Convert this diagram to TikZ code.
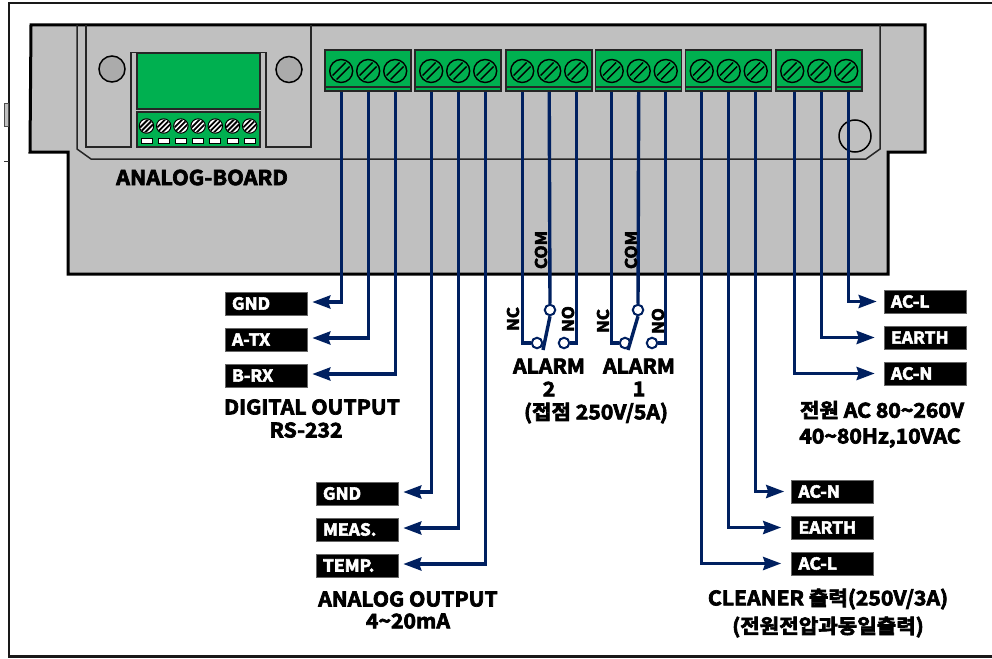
\documentclass[tikz,border=0pt]{standalone}
\usepackage{fontspec}
\setmainfont{Noto Sans CJK KR}[BoldFont={Noto Sans CJK KR Bold},BoldFeatures={FakeBold=3.5,FakeStretch=1.06}]
\usetikzlibrary{arrows.meta,calc}
\definecolor{wirec}{HTML}{002060}
\definecolor{greenc}{HTML}{00B050}
\definecolor{housec}{HTML}{C0C0C0}
\tikzset{
  x=1pt,y=-1pt,
  wire/.style={draw=wirec,line width=3.4pt},
  awire/.style={wire,-{Stealth[length=18pt,width=13pt,inset=2pt]},shorten >=5pt},
  tagbox/.style={fill=black,draw=black!60,line width=.6pt,minimum width=82pt,minimum height=23pt,inner sep=0pt,text=white,font=\bfseries\fontsize{16.5}{15}\selectfont,text width=68pt,align=left},
  lbl/.style={font=\bfseries\fontsize{20}{18}\selectfont,inner sep=0pt,text=black},
  vlbl/.style={font=\bfseries\fontsize{16}{15}\selectfont,inner sep=0pt,rotate=90},
  contact/.style={circle,draw=wirec,fill=white,line width=2pt,minimum size=10.5pt,inner sep=0pt},
  blockbox/.style={fill=greenc,draw=black!85,line width=1.6pt},
  innerline/.style={draw=black!85,line width=1.5pt},
}
\begin{document}
\begin{tikzpicture}
\useasboundingbox (0,0) rectangle (992,658);
% frame
\draw[line width=2.6pt,black!90] (992,3) -- (9,3) -- (9,656.5) -- (992,656.5);
\draw[black!70,line width=.8pt,fill=housec] (4.5,103) rectangle (8,126);
\draw[black!80,line width=.8pt] (4,161) -- (9,161);
% housing
\draw[fill=housec,draw=black,line width=3pt,line join=miter] (31,25) -- (925,25) -- (925,152) -- (888,152) -- (888,274) -- (68,274) -- (68,152) -- (30,152) -- cycle;
\draw[innerline] (77,25) -- (77,149) -- (91,159) -- (866,159) -- (880,149) -- (880,25);
\draw[innerline] (86,25) -- (86,147) -- (131,147) -- (131,52.5) -- (266,52.5) -- (266,147) -- (311,147) -- (311,25);
\node[circle,draw=black,line width=1.5pt,fill=black!33,minimum size=26pt,inner sep=0pt] (holeA) at (112,69) {};
\node[circle,draw=black,line width=1.5pt,fill=black!33,minimum size=26pt,inner sep=0pt] (holeB) at (289,69.5) {};
\node[circle,draw=black,line width=1.5pt,minimum size=32pt,inner sep=0pt] (holeC) at (855,136) {};
% analog board
\draw[blockbox] (137,53) rectangle (260,109);
\draw[blockbox] (137,112) rectangle (260,147);
\foreach \i in {0,...,6}{
  \pgfmathsetmacro{\sx}{146.5+17.2*\i}
  \fill[white,draw=black,line width=1pt] (\sx,126) circle (7.2);
  \begin{scope}
    \clip (\sx,126) circle (6.6);
    \foreach \d in {-5,0,5}
      \draw[black,line width=1.8pt] (\sx+\d-8,126+8) -- (\sx+\d+8,126-8);
  \end{scope}
  \draw[black,fill=white,line width=1pt] (\sx-5.5,138.5) rectangle (\sx+5.5,143);
}
\node[lbl,font=\bfseries\fontsize{20.5}{18}\selectfont] (board) at (202,177.5) {ANALOG-BOARD};
% terminal blocks
\foreach \bx/\off [count=\b] in {325/0,415/0,506/0,595.5/0,685.5/0,776/2}{
  \draw[blockbox] (\bx,50) rectangle (\bx+86,91);
  \draw[black!85,line width=1.5pt] (\bx,87) -- (\bx+86,87);
  \foreach \k [count=\s] in {16.2,43.2,70.2}{
    \node[circle,draw=black,line width=1.4pt,minimum size=23pt,inner sep=0pt] (t\b\s) at (\bx+\k,71) {};
    \draw[black,line width=1.4pt] ($(t\b\s)+(-8.5,4.5)$) -- ($(t\b\s)+(4.5,-8.5)$);
    \draw[black,line width=1.4pt] ($(t\b\s)+(-4.5,8.5)$) -- ($(t\b\s)+(8.5,-4.5)$);
    \coordinate (w\b\s) at (\bx+\k+\off,92);
  }
}
% tags
\node[tagbox] (dg) at (266,303.5) {GND};
\node[tagbox] (da) at (266,339.5) {A-TX};
\node[tagbox] (db) at (266,375.5) {B-RX};
\node[tagbox] (ag) at (357,493.5) {GND};
\node[tagbox] (am) at (357,529.5) {MEAS.};
\node[tagbox] (at) at (357,565.5) {TEMP.};
\node[tagbox] (cn) at (832.5,491.5) {AC-N};
\node[tagbox] (ce) at (832.5,527.5) {EARTH};
\node[tagbox] (cl) at (832.5,563.5) {AC-L};
\node[tagbox] (pl) at (925,301.5) {AC-L};
\node[tagbox] (pe) at (925,337.5) {EARTH};
\node[tagbox] (pn) at (925,373.5) {AC-N};
% wires with arrows
\draw[awire] (w11) |- ([yshift=1.5pt]dg.east);
\draw[awire] (w12) |- ([yshift=1.5pt]da.east);
\draw[awire] (w13) |- ([yshift=1.5pt]db.east);
\draw[awire] (w21) |- ([yshift=1.5pt]ag.east);
\draw[awire] (w22) |- ([yshift=1.5pt]am.east);
\draw[awire] (w23) |- ([yshift=1.5pt]at.east);
\draw[awire,shorten >=7pt] (w53) |- (cn.west);
\draw[awire,shorten >=10pt] (w52) |- (ce.west);
\draw[awire,shorten >=10pt] (w51) |- (cl.west);
\draw[awire,shorten >=7pt] (w63) |- (pl.west);
\draw[awire,shorten >=9pt] (w62) |- (pe.west);
\draw[awire,shorten >=9pt] (w61) |- (pn.west);
% alarm contacts
\node[contact] (nc2) at (537,343) {};
\node[contact] (com2) at (550,310) {};
\node[contact] (no2) at (564,343) {};
\node[contact] (nc1) at (625,343) {};
\node[contact] (com1) at (638,310) {};
\node[contact] (no1) at (652,343) {};
\draw[wire] (w31) |- (nc2.west);
\draw[wire] (w32) -- (com2.north);
\draw[wire] (w33) |- (no2.east);
\draw[wire] (w41) |- (nc1.west);
\draw[wire] (w42) -- (com1.north);
\draw[wire] (w43) |- (no1.east);
\draw[wire] (com2.south) -- (543,350);
\draw[wire] (com1.south) -- (628,350);
% texts
\node[vlbl] (lc2) at (541,250) {COM};
\node[vlbl] (lc1) at (631,250) {COM};
\node[vlbl] (ln2) at (513,319) {NC};
\node[vlbl] (lo2) at (568,319) {NO};
\node[vlbl] (ln1) at (603,321) {NC};
\node[vlbl] (lo1) at (658,321) {NO};
\node[lbl] (al2) at (549,366) {ALARM};
\node[lbl] (n2) at (549,389) {2};
\node[lbl] (al1) at (639,366) {ALARM};
\node[lbl] (n1) at (639,389) {1};
\node[lbl] (rate) at (596,413) {(접점 250V/5A)};
\node[lbl] (dig) at (312,407) {DIGITAL OUTPUT};
\node[lbl] (rs) at (306,430) {RS-232};
\node[lbl] (ana) at (408,599) {ANALOG OUTPUT};
\node[lbl] (ma) at (408,621) {4\textasciitilde 20mA};
\node[lbl] (cln) at (828,599) {CLEANER 출력(250V/3A)};
\node[lbl] (cln2) at (828,627) {(전원전압과동일출력)};
\node[lbl] (pw) at (882,410) {전원 AC 80\textasciitilde 260V};
\node[lbl] (pw2) at (880,438) {40\textasciitilde 80Hz,10VAC};
\end{tikzpicture}
\end{document}
